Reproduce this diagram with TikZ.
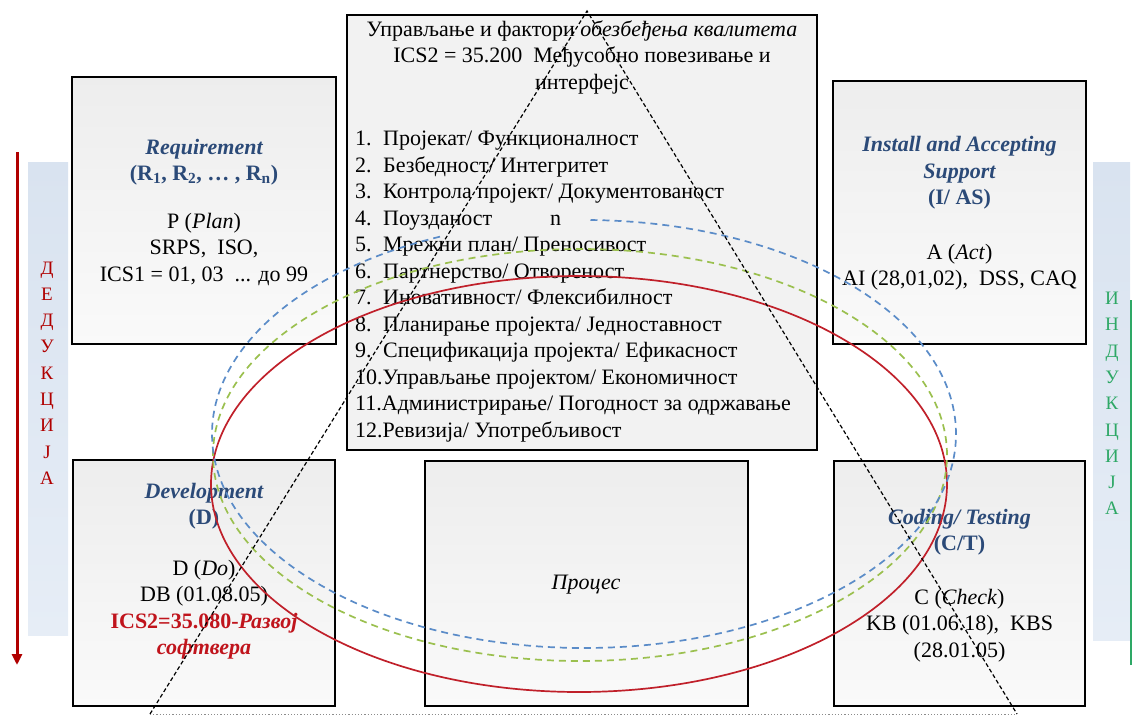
\documentclass[tikz,border=0pt]{standalone}
\usepackage{fontspec}
\setmainfont{Liberation Serif}
\newfontfamily\srb[Script=Cyrillic,Language=Serbian]{Liberation Serif}
\usetikzlibrary{arrows.meta,calc}

\definecolor{headblue}{HTML}{2B4A78}
\definecolor{icsred}{HTML}{C0141C}
\definecolor{dedred}{HTML}{B00000}
\definecolor{indgreen}{HTML}{2EA866}
\definecolor{bartop}{HTML}{D9E3F0}
\definecolor{barbot}{HTML}{E6EDF6}
\definecolor{ringblue}{HTML}{5B8CC8}
\definecolor{ringgreen}{HTML}{9BC04F}
\definecolor{ringred}{HTML}{C0202A}

\tikzset{
  card/.style={draw=black, line width=1.3pt, top color=black!7, bottom color=black!2,
    inner sep=0pt},
  bigcard/.style={draw=black, line width=1.3pt, fill=black!5, inner sep=0pt},
  sidebar/.style={top color=bartop, bottom color=barbot, draw=none, inner sep=0pt},
  body/.style={font=\fontsize{22}{26.5}\selectfont, align=center, inner sep=0pt},
  letters/.style={font=\fontsize{19}{26.3}\selectfont, align=center, inner sep=0pt},
  tri/.style={line width=1.2pt, dash pattern=on 4pt off 2.5pt},
  triBase/.style={line width=1pt, black!45, dash pattern=on 1.2pt off 2pt},
  ring/.style={line width=1.7pt},
}

\begin{document}
\begin{tikzpicture}[x=1pt,y=1pt]
\useasboundingbox (0,0) rectangle (1135,-715);

% side bars with the deduction / induction labels
\node[sidebar, minimum width=40pt, minimum height=473pt] (lbar) at (48,-398.5) {};
\node[sidebar, minimum width=37pt, minimum height=478pt] (rbar) at (1111.5,-401) {};
\node[letters, text=dedred] (ded) at (47,-373) {Д\\Е\\Д\\У\\К\\Ц\\И\\Ј\\А};
\node[letters, text=indgreen] (ind) at (1112,-403.5) {И\\Н\\Д\\У\\К\\Ц\\И\\Ј\\А};
\coordinate (dedtop) at (17,-152);
\coordinate (dedbot) at (17,-665);
\draw[dedred, line width=3pt, -{Triangle[length=11pt,width=10pt]}] (dedtop) -- (dedbot);
\coordinate (indtop) at (1131,-300);
\coordinate (indbot) at (1131,-665);
\draw[indgreen, line width=2.5pt] (indbot) -- (indtop);

% the six boxes
\node[bigcard, minimum width=470pt, minimum height=435pt] (qa) at (582,-232.5) {};
\node[card, minimum width=264pt, minimum height=267pt] (req) at (204,-210.5) {};
\node[card, minimum width=253pt, minimum height=263pt] (inst) at (959.5,-212.5) {};
\node[card, minimum width=262pt, minimum height=246pt] (dev) at (204,-583) {};
\node[card, minimum width=323pt, minimum height=245pt] (proc) at (586.5,-583.5) {};
\node[card, minimum width=251pt, minimum height=245pt] (code) at (959.5,-583.5) {};

% box texts
\node[body] (qahead) at (582,-57) {Управљање и фактори {\srb\itshape обезбеђења квалитета}\\
  ICS2 = 35.200\ \ Међусобно повезивање и\\ интерфејс};
\node[body, align=left, anchor=north west] (qalist) at (355,-131) {%
  \makebox[28pt][l]{1.}Пројекат/ Функционалност\\
  \makebox[28pt][l]{2.}Безбедност/ Интегритет\\
  \makebox[28pt][l]{3.}Контрола пројект/ Документованост\\
  \makebox[28pt][l]{4.}Поузданост\hspace{58pt}n\\
  \makebox[28pt][l]{5.}Мрежни план/ Преносивост\\
  \makebox[28pt][l]{6.}Партнерство/ Отвореност\\
  \makebox[28pt][l]{7.}Иновативност/ Флексибилност\\
  \makebox[28pt][l]{8.}Планирање пројекта/ Једноставност\\
  \makebox[28pt][l]{9.}Спецификација пројекта/ Ефикасност\\
  10.Управљање пројектом/ Економичност\\
  11.Администрирање/ Погодност за одржавање\\
  12.Ревизија/ Употребљивост};

\node[body] (reqtext) at (204,-212) {%
  {\color{headblue}\bfseries\itshape Requirement}\\
  {\color{headblue}\bfseries (R\textsubscript{1}, R\textsubscript{2}, … , R\textsubscript{n})}\\[21pt]
  P (\textit{Plan})\\ SRPS,\ \ ISO,\\ ICS1 = 01, 03 \ ... до 99};

\node[body] (insttext) at (959.5,-213.5) {%
  {\color{headblue}\bfseries\itshape Install and Accepting}\\
  {\color{headblue}\bfseries\itshape Support}\\
  {\color{headblue}\bfseries (I/ AS)}\\[28pt]
  A (\textit{Act})\\ AI (28,01,02),\ \ DSS, CAQ};

\node[body] (devtext) at (204,-571) {%
  {\color{headblue}\bfseries\itshape Development}\\
  {\color{headblue}\bfseries (D)}\\[24pt]
  D (\textit{Do})\\ DB (01.08.05)\\
  {\color{icsred}\bfseries ICS2=35.080-{\srb\itshape Развој}}\\
  {\color{icsred}\bfseries\srb\itshape софтвера}};

\node[body, font=\fontsize{22}{26}\selectfont\srb\itshape] (proctext) at (586,-585) {Процес};

\node[body] (codetext) at (959.5,-585.5) {%
  {\color{headblue}\bfseries\itshape Coding/ Testing}\\
  {\color{headblue}\bfseries (C/T)}\\[27pt]
  C (\textit{Check})\\ KB (01.06.18),\ \ KBS\\ (28.01.05)};

% the three quality rings
\coordinate (cRed) at (579,-484);
\coordinate (cGreen) at (580,-455);
\coordinate (cBlue) at (584,-434);
\draw[ring, ringred] (cRed) ellipse[x radius=368, y radius=208];
\draw[ring, ringgreen, dash pattern=on 7pt off 5pt] (cGreen) ellipse[x radius=367, y radius=206];
\draw[ring, ringblue, dash pattern=on 7pt off 5pt] ($(cBlue)+(89:372 and 214)$)
  arc[start angle=89, end angle=-248, x radius=372, y radius=214];

% the dashed triangle
\coordinate (apex) at (587,-11);
\coordinate (baseL) at (150,-714);
\coordinate (baseR) at (1017,-714);
\draw[tri] (baseL) -- (apex) -- (baseR);
\draw[triBase] (baseL) -- (baseR);
\end{tikzpicture}
\end{document}
